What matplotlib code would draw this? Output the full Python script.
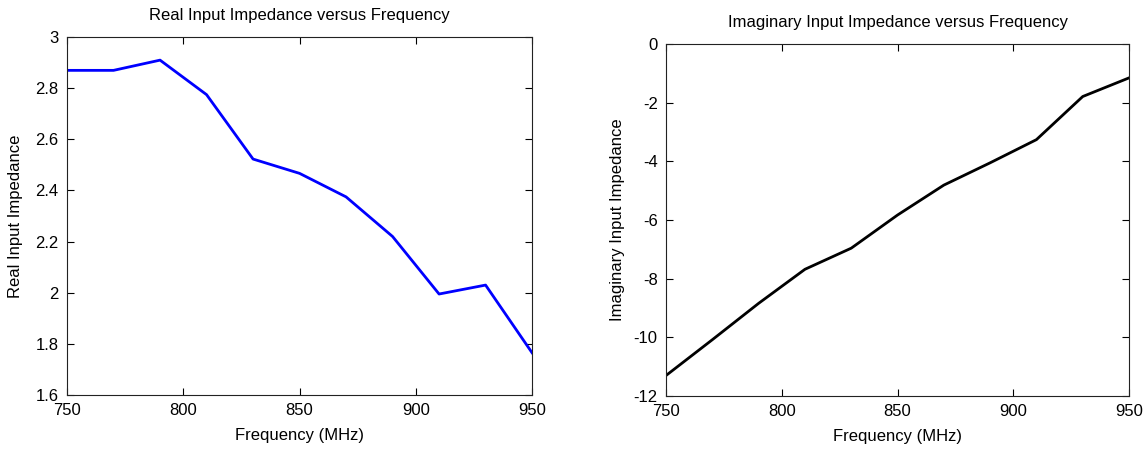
import numpy as np
import matplotlib
matplotlib.use('Agg')
import matplotlib.pyplot as plt

plt.rcParams['font.family'] = ['Liberation Sans', 'DejaVu Sans']
plt.rcParams['axes.unicode_minus'] = False

# frequency sweep (MHz)
freq = [750, 770, 790, 810, 830, 850, 870, 890, 910, 930, 950]

# input impedance, real and imaginary parts
z_real = [2.87, 2.87, 2.91, 2.775, 2.523, 2.467, 2.375, 2.22, 1.995, 2.03, 1.765]
z_imag = [-11.3, -10.08, -8.84, -7.68, -6.96, -5.83, -4.81, -4.05, -3.26, -1.79, -1.155]

fig = plt.figure(figsize=(11.46, 4.49), dpi=100)

ax1 = fig.add_axes([0.0585, 0.1203, 0.4058, 0.797])
ax1.plot(freq, z_real, color='blue', linewidth=2)
ax1.set_xlim(750, 950)
ax1.set_ylim(1.6, 3)
ax1.set_xticks(np.arange(750, 951, 50))
ax1.set_yticks(np.arange(1.6, 3.01, 0.2))
ax1.set_yticklabels(['1.6', '1.8', '2', '2.2', '2.4', '2.6', '2.8', '3'])
ax1.set_title('Real Input Impedance versus Frequency', fontsize=12, pad=12)
ax1.set_ylabel('Real Input Impedance', fontsize=12, labelpad=9)

ax2 = fig.add_axes([0.5812, 0.118, 0.404, 0.784])
ax2.plot(freq, z_imag, color='black', linewidth=2)
ax2.set_xlim(750, 950)
ax2.set_ylim(-12, 0)
ax2.set_xticks(np.arange(750, 951, 50))
ax2.set_yticks(np.arange(-12, 1, 2))
ax2.set_title('Imaginary Input Impedance versus Frequency', fontsize=12, pad=12)
ax2.set_ylabel('Imaginary Input Impedance', fontsize=12, labelpad=6)

for ax in (ax1, ax2):
    ax.set_xlabel('Frequency (MHz)', fontsize=12, labelpad=7)
    ax.tick_params(direction='in', top=True, right=True, length=5,
                   labelsize=12, pad=6, width=0.8)
    for s in ax.spines.values():
        s.set_linewidth(0.8)
        s.set_color('#222222')

fig.savefig('out.png', dpi=100)
